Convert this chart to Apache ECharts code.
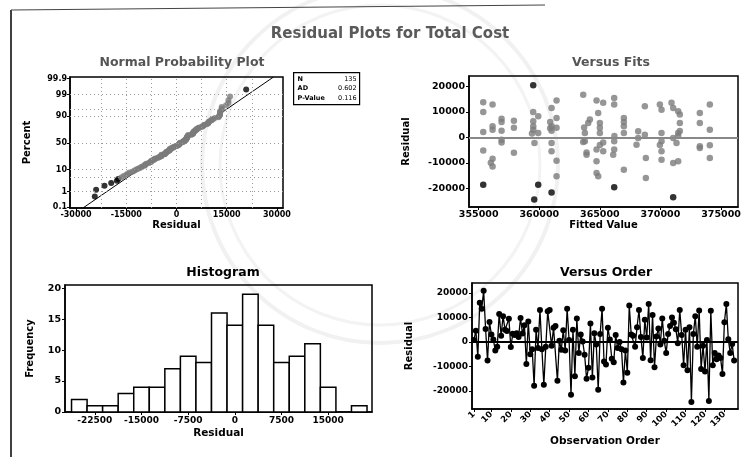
<!DOCTYPE html>
<html>
<head>
<meta charset="utf-8">
<script src="https://cdn.jsdelivr.net/npm/echarts@6/dist/echarts.min.js"></script>
<style>
  html, body { margin: 0; padding: 0; background: #fff; }
  #chart { width: 755px; height: 457px; }
</style>
</head>
<body>
<div id="chart"></div>
<script>
// Residuals of the Total Cost model, in observation order (n = 135)
const residuals = [
  800, 4600, -6000, 16000, 13500, 20800, 5300, -7600, 8100, 3000,
  1000, -3500, -2000, 11400, 2500, 10500, 5000, 4500, 9400, -2100,
  3300, 2800, 3500, 2000, 9700, 3400, 6800, -9000, 8300, -5000,
  -3000, -17800, 5000, -2500, 13000, -3000, -17400, -2000, 12500, 13000,
  -1500, 5800, 6500, -15800, 500, -3200, 4800, -3500, 13500, 800,
  -21500, 5000, -14000, 9500, -4500, 3000, 200, -5200, -15000, -10500,
  7500, -14500, 3500, -1000, -19500, 3200, 13500, -8000, -9200, 5800,
  1000, -6800, -8300, 2800, -2500, 0, -3000, -16500, -3500, -12500,
  14800, 3000, 2500, -2000, 6000, 13000, 2000, -6500, 9000, 1800,
  15500, -7500, 11000, -10300, 2200, 5500, -1000, 9500, 500, -4500,
  3200, 6500, 10000, 7800, 5200, -500, 13000, 2800, -9500, 5000,
  -11500, 6000, -24400, 3200, 10500, -2000, 12800, -11000, -1500, -12000,
  800, -24000, 12700, -9500, -4500, -7000, -5500, -6500, -13000, 8000,
  15500, 1100, -4500, -800, -7600
];

// Versus-fits panel: fitted values and their residuals
const fitValues = [
  355375, 355375, 355375, 355375, 355375,
  356145, 356145, 356145, 356145, 356145, 356000,
  356888, 356888, 356888, 356888, 356888,
  357905, 357905, 357905,
  359500, 359500, 359500, 359500, 359500, 359600, 359400,
  359913, 359913, 359913, 359583,
  361013, 361013, 361013, 361013, 361013, 361013, 360900, 360900,
  361425, 361425, 361425, 361425, 361425,
  363625, 363763, 363763, 363900, 363900, 364038, 364175, 363625, 363700,
  364725, 364863, 365000, 365000, 365000, 364725, 364725, 364725, 364863, 365275, 365000, 365275, 365275,
  366183, 366183, 366183, 366183, 366100, 366183, 366200,
  366980, 366980, 366980, 366980, 366980,
  368025, 368163, 368163,
  368713, 368795, 368795, 368713,
  369950, 370088, 370088, 370088, 370088, 370088, 369950,
  370913, 371050, 371050, 371050, 371050,
  371463, 371600, 371600, 371463, 371325, 371463, 371463, 371600,
  373250, 373250, 373250, 373250,
  374075, 374075, 374075, 374075
];
const fitResiduals = [
  13700, 9900, 2100, -5200, -18600,
  12800, 4300, 3000, -8400, -11400, -10000,
  7300, 6000, 2600, -2000, -1000,
  6500, 3700, -6100,
  20400, 9900, 6300, 4300, 3000, -2200, 1500,
  8200, 1700, -18600, -24400,
  11500, 4300, 2600, -2200, -5500, -21600, 6000, 3500,
  14400, 7600, 3700, -9200, -15300,
  16700, 1700, -1600, -6800, -6000, 5600, 7000, -1800, 3800,
  14400, 9500, 5600, 3700, 1700, -4800, -9400, -14000, -15300, 13500, -3000, -2000, -5500,
  15400, 12800, -1600, -4800, -6800, -19600, 500,
  7600, 4300, 1700, -12700, 6000,
  -2900, 2400, -300,
  12200, -8100, -15900, 1000,
  12800, 10800, 1700, -1600, -5500, -8800, -3000,
  13500, 11500, -300, -10100, -23500,
  10200, 8900, 5600, 1700, -2200, -9400, 500, 2500,
  9500, 5600, -4200, -3500,
  12800, 3000, -3100, -8100
];

// Histogram: bin midpoints and frequencies
const binMids = [-25000, -22500, -20000, -17500, -15000, -12500, -10000, -7500, -5000, -2500,
                 0, 2500, 5000, 7500, 10000, 12500, 15000, 17500, 20000];
const binCounts = [2, 1, 1, 3, 4, 4, 7, 9, 8, 16, 14, 19, 14, 8, 9, 11, 4, 0, 1];
const binWidth = 2500;

// Tick labels
const probTicks = [0.1, 1, 10, 50, 90, 99, 99.9];
const probGrid = [1, 5, 10, 50, 90, 95, 99];
const npResidTicks = [-30000, -15000, 0, 15000, 30000];
const npResidGrid = [-22500, -15000, -7500, 0, 7500, 15000, 22500];
const residTicks = [-20000, -10000, 0, 10000, 20000];
const fitTicks = [355000, 360000, 365000, 370000, 375000];
const histResidTicks = [-22500, -15000, -7500, 0, 7500, 15000];
const freqTicks = [0, 5, 10, 15, 20];
const orderTicks = [1, 10, 20, 30, 40, 50, 60, 70, 80, 90, 100, 110, 120, 130];

// Normality test summary
const statLabels = ['N', 'AD', 'P-Value'];
const statValues = [String(residuals.length), '0.602', '0.116'];

const LARGE_RESID = 17000;
const FONT = '"DejaVu Sans", Verdana, sans-serif';

// Inverse of the standard normal CDF (Acklam's rational approximation)
function invNorm(p) {
  const a = [-3.969683028665376e+01, 2.209460984245205e+02, -2.759285104469687e+02,
             1.383577518672690e+02, -3.066479806614716e+01, 2.506628277459239e+00];
  const b = [-5.447609879822406e+01, 1.615858368580409e+02, -1.556989798598866e+02,
             6.680131188771972e+01, -1.328068155288572e+01];
  const c = [-7.784894002430293e-03, -3.223964580411365e-01, -2.400758277161838e+00,
             -2.549732539343734e+00, 4.374664141464968e+00, 2.938163982698783e+00];
  const d = [7.784695709041462e-03, 3.224671290700398e-01, 2.445134137142996e+00,
             3.754408661907416e+00];
  const pl = 0.02425;
  let q, r;
  if (p < pl) {
    q = Math.sqrt(-2 * Math.log(p));
    return (((((c[0]*q+c[1])*q+c[2])*q+c[3])*q+c[4])*q+c[5]) / ((((d[0]*q+d[1])*q+d[2])*q+d[3])*q+1);
  }
  if (p > 1 - pl) {
    q = Math.sqrt(-2 * Math.log(1 - p));
    return -(((((c[0]*q+c[1])*q+c[2])*q+c[3])*q+c[4])*q+c[5]) / ((((d[0]*q+d[1])*q+d[2])*q+d[3])*q+1);
  }
  q = p - 0.5; r = q * q;
  return (((((a[0]*r+a[1])*r+a[2])*r+a[3])*r+a[4])*r+a[5])*q / (((((b[0]*r+b[1])*r+b[2])*r+b[3])*r+b[4])*r+1);
}

// Normal probability plot: sorted residuals against median-rank normal scores
const n = residuals.length;
const sorted = residuals.slice().sort((x, y) => x - y);
const npPoints = sorted.map((r, i) => [r, invNorm((i + 1 - 0.3) / (n + 0.4))]);
const mean = residuals.reduce((s, v) => s + v, 0) / n;
const sd = Math.sqrt(residuals.reduce((s, v) => s + (v - mean) * (v - mean), 0) / (n - 1));
const Z_MIN = -3.12, Z_MAX = 3.17;
const npLine = [[mean + sd * Z_MIN, Z_MIN], [mean + sd * Z_MAX, Z_MAX]];

const probZ = probTicks.map(p => invNorm(p / 100));
const probGridZ = probGrid.map(p => invNorm(p / 100));

const pointColor = r => (Math.abs(r) >= LARGE_RESID ? '#000' : '#7c7c7c');
const plain = v => String(Math.round(v * 1000) / 1000);

const chart = echarts.init(document.getElementById('chart'), null, { renderer: 'canvas' });

const tickLabel = size => ({ color: '#000', fontFamily: FONT, fontWeight: 'bold', fontSize: size, formatter: plain });
const axisNameStyle = size => ({ color: '#000', fontFamily: FONT, fontWeight: 'bold', fontSize: size });

function valueAxis(opts) {
  return Object.assign({
    type: 'value',
    scale: false,
    splitLine: { show: false },
    axisLine: { show: true, onZero: false, lineStyle: { color: '#000', width: 1.5 } },
    axisTick: { show: true, length: 3, lineStyle: { color: '#000', width: 1 } },
    nameLocation: 'middle',
    nameTextStyle: axisNameStyle(10)
  }, opts);
}

const gridStyle = { show: true, borderColor: '#000', borderWidth: 1.5, backgroundColor: 'transparent' };

const option = {
  animation: false,
  backgroundColor: '#fff',
  title: [
    { text: 'Residual Plots for Total Cost', left: 385, top: 22, textAlign: 'center',
      textStyle: { fontFamily: FONT, fontWeight: 'bold', fontSize: 15, color: '#5a5a5a' } },
    { text: 'Normal Probability Plot', left: 177, top: 51, textAlign: 'center',
      textStyle: { fontFamily: FONT, fontWeight: 'bold', fontSize: 12.5, color: '#555' } },
    { text: 'Versus Fits', left: 606, top: 51, textAlign: 'center',
      textStyle: { fontFamily: FONT, fontWeight: 'bold', fontSize: 12.5, color: '#555' } },
    { text: 'Histogram', left: 218, top: 261, textAlign: 'center',
      textStyle: { fontFamily: FONT, fontWeight: 'bold', fontSize: 12.5, color: '#000' } },
    { text: 'Versus Order', left: 601, top: 261, textAlign: 'center',
      textStyle: { fontFamily: FONT, fontWeight: 'bold', fontSize: 12.5, color: '#000' } }
  ],
  grid: [
    Object.assign({ left: 70, top: 77, width: 213, height: 131 }, gridStyle),
    Object.assign({ left: 469, top: 76, width: 269, height: 131 }, gridStyle),
    Object.assign({ left: 65, top: 285, width: 307, height: 127 }, gridStyle),
    Object.assign({ left: 472, top: 283, width: 266, height: 126 }, gridStyle)
  ],
  xAxis: [
    valueAxis({ gridIndex: 0, min: -31800, max: 31800, name: 'Residual', nameGap: 12,
      axisTick: { show: true, length: 3, customValues: npResidTicks, lineStyle: { color: '#000' } },
      axisLabel: Object.assign(tickLabel(8), { customValues: npResidTicks, margin: 3 }) }),
    valueAxis({ gridIndex: 1, min: 354200, max: 376400, name: 'Fitted Value', nameGap: 13,
      axisTick: { show: true, length: 3, customValues: fitTicks, lineStyle: { color: '#000' } },
      axisLabel: Object.assign(tickLabel(9.5), { customValues: fitTicks, margin: 3 }) }),
    valueAxis({ gridIndex: 2, min: -27300, max: 22050, name: 'Residual', nameGap: 16,
      nameTextStyle: axisNameStyle(10.5),
      axisTick: { show: true, length: 3, customValues: histResidTicks, lineStyle: { color: '#000' } },
      axisLabel: Object.assign(tickLabel(9), { customValues: histResidTicks, margin: 4 }) }),
    valueAxis({ gridIndex: 3, min: 0, max: 137, name: 'Observation Order', nameGap: 27,
      nameTextStyle: axisNameStyle(10.5),
      axisTick: { show: true, length: 3, customValues: orderTicks, lineStyle: { color: '#000' } },
      axisLabel: Object.assign(tickLabel(8.5), { customValues: orderTicks, margin: 4, rotate: 45 }) })
  ],
  yAxis: [
    valueAxis({ gridIndex: 0, min: Z_MIN, max: Z_MAX, name: 'Percent', nameGap: 38,
      axisTick: { show: true, length: 3, customValues: probZ, lineStyle: { color: '#000' } },
      axisLabel: Object.assign(tickLabel(8), {
        customValues: probZ, margin: 3,
        formatter: v => {
          let best = 0;
          probZ.forEach((z, i) => { if (Math.abs(z - v) < Math.abs(probZ[best] - v)) best = i; });
          return String(probTicks[best]);
        }
      }) }),
    valueAxis({ gridIndex: 1, min: -27300, max: 24000, name: 'Residual', nameGap: 58,
      axisTick: { show: true, length: 3, customValues: residTicks, lineStyle: { color: '#000' } },
      axisLabel: Object.assign(tickLabel(9.5), { customValues: residTicks, margin: 4 }) }),
    valueAxis({ gridIndex: 2, min: 0, max: 20.5, name: 'Frequency', nameGap: 30,
      axisTick: { show: true, length: 3, customValues: freqTicks, lineStyle: { color: '#000' } },
      axisLabel: Object.assign(tickLabel(9.5), { customValues: freqTicks, margin: 4 }) }),
    valueAxis({ gridIndex: 3, min: -27300, max: 24000, name: 'Residual', nameGap: 58,
      axisTick: { show: true, length: 3, customValues: residTicks, lineStyle: { color: '#000' } },
      axisLabel: Object.assign(tickLabel(9), { customValues: residTicks, margin: 4 }) })
  ],
  series: [
    // Normal probability plot
    {
      type: 'line', xAxisIndex: 0, yAxisIndex: 0, data: npLine, symbol: 'none',
      lineStyle: { color: '#000', width: 1 }, silent: true, z: 3,
      markLine: {
        silent: true, symbol: 'none', label: { show: false },
        lineStyle: { color: '#9a9a9a', type: [1, 3], width: 1 },
        data: npResidGrid.map(v => ({ xAxis: v })).concat(probGridZ.map(z => ({ yAxis: z })))
      }
    },
    {
      type: 'scatter', xAxisIndex: 0, yAxisIndex: 0, symbolSize: 6, z: 4,
      data: npPoints.map(p => ({ value: p, itemStyle: { color: pointColor(p[0]) } }))
    },
    // Versus fits
    {
      type: 'scatter', xAxisIndex: 1, yAxisIndex: 1, symbolSize: 6.5, z: 4,
      data: fitValues.map((f, i) => ({ value: [f, fitResiduals[i]], itemStyle: { color: pointColor(fitResiduals[i]) } })),
      markLine: {
        silent: true, symbol: 'none', label: { show: false },
        lineStyle: { color: '#888', type: 'solid', width: 2 },
        data: [{ yAxis: 0 }]
      }
    },
    // Histogram bars
    {
      type: 'custom', xAxisIndex: 2, yAxisIndex: 2,
      data: binMids.map((m, i) => [m, binCounts[i]]),
      renderItem: (params, api) => {
        const mid = api.value(0), cnt = api.value(1);
        if (!cnt) return null;
        const p0 = api.coord([mid - binWidth / 2, cnt]);
        const p1 = api.coord([mid + binWidth / 2, 0]);
        return {
          type: 'rect',
          shape: { x: p0[0], y: p0[1], width: p1[0] - p0[0], height: p1[1] - p0[1] },
          style: { fill: '#fff', stroke: '#000', lineWidth: 1.5 }
        };
      }
    },
    // Versus order
    {
      type: 'line', xAxisIndex: 3, yAxisIndex: 3,
      data: residuals.map((r, i) => [i + 1, r]),
      symbol: 'circle', symbolSize: 6, showSymbol: true,
      itemStyle: { color: '#000' }, lineStyle: { color: '#000', width: 1.3 },
      markLine: {
        silent: true, symbol: 'none', label: { show: false },
        lineStyle: { color: '#000', type: 'solid', width: 2 },
        data: [{ yAxis: 0 }]
      }
    }
  ],
  graphic: [
    // faint seal printed behind the page
    { type: 'circle', z: -10, silent: true, shape: { cx: 380, cy: 165, r: 178 },
      style: { fill: 'none', stroke: '#f1f1f1', lineWidth: 4 } },
    { type: 'circle', z: -10, silent: true, shape: { cx: 380, cy: 165, r: 160 },
      style: { fill: 'none', stroke: '#f3f3f3', lineWidth: 3 } },
    // page frame
    { type: 'line', shape: { x1: 11, y1: 10, x2: 11, y2: 457 }, style: { stroke: '#000', lineWidth: 1.5 } },
    { type: 'line', shape: { x1: 11, y1: 10, x2: 545, y2: 5 }, style: { stroke: '#444', lineWidth: 1 } },
    // normality test summary box
    {
      type: 'group', left: 293, top: 72,
      children: [
        { type: 'rect', shape: { x: 0, y: 0, width: 66, height: 32 },
          style: { fill: '#fff', stroke: '#000', lineWidth: 1.2 } }
      ].concat(statLabels.map((s, i) => ({
        type: 'text', x: 4, y: 3 + i * 9.5,
        style: { text: s, fontFamily: FONT, fontWeight: 'bold', fontSize: 6.5, fill: '#000' }
      }))).concat(statValues.map((s, i) => ({
        type: 'text', x: 63, y: 3 + i * 9.5,
        style: { text: s, align: 'right', fontFamily: FONT, fontSize: 6.5, fill: '#000' }
      })))
    }
  ]
};

chart.setOption(option);
</script>
</body>
</html>
